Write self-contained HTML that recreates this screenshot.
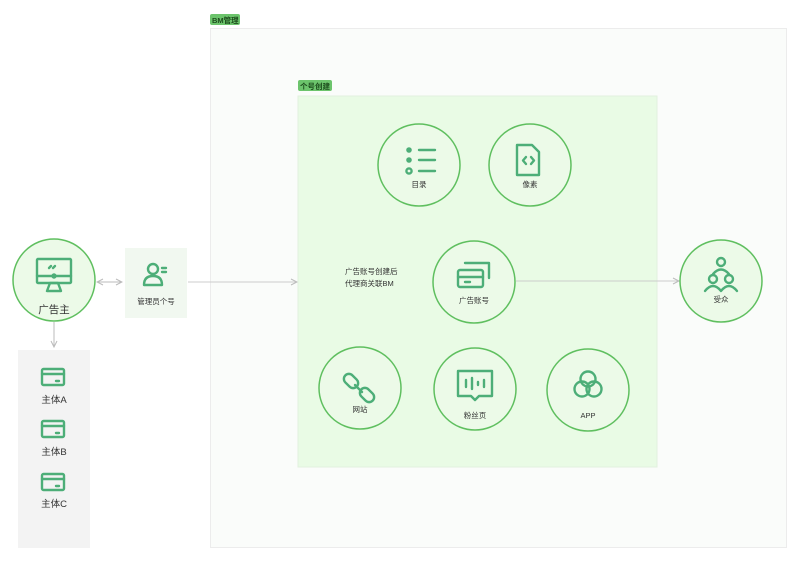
<!DOCTYPE html>
<html><head><meta charset="utf-8"><style>
html,body{margin:0;padding:0;background:#fff;width:800px;height:561px;overflow:hidden}
svg{display:block}
text{font-family:"Liberation Sans","Noto Sans CJK SC",sans-serif;fill:#333}
</style></head><body>
<svg width="800" height="561" viewBox="0 0 800 561" xmlns="http://www.w3.org/2000/svg">
<defs>
<marker id="ar" markerWidth="8" markerHeight="8" refX="7" refY="4" orient="auto" markerUnits="userSpaceOnUse"><path d="M1,1 L7,4 L1,7" fill="none" stroke="#bbb" stroke-width="1"/></marker>
<marker id="al" markerWidth="8" markerHeight="8" refX="1" refY="4" orient="auto" markerUnits="userSpaceOnUse"><path d="M7,1 L1,4 L7,7" fill="none" stroke="#bbb" stroke-width="1"/></marker>
</defs>
<rect width="800" height="561" fill="#fff"/>
<rect x="210.5" y="28.5" width="576" height="519" fill="#fafcfa" stroke="#ececec"/>
<rect x="210" y="14" width="30" height="11" rx="2" fill="#6cc46c"/>
<text x="212" y="23" font-size="7.5" font-weight="bold" style="fill:#1d4d1d">BM管理</text>
<rect x="298" y="96" width="359" height="371" fill="#e9fbe5" stroke="#e1f1de"/>
<rect x="298" y="80" width="34" height="11" rx="2" fill="#6cc46c"/>
<text x="300" y="89" font-size="7.5" font-weight="bold" style="fill:#1d4d1d">个号创建</text>
<rect x="125" y="248" width="62" height="70" fill="#f1f8f0"/>
<rect x="18" y="350" width="72" height="198" fill="#f3f3f3"/>
<line x1="97" y1="282" x2="122" y2="282" stroke="#bbb" marker-start="url(#al)" marker-end="url(#ar)"/>
<line x1="188" y1="282" x2="297" y2="282" stroke="#ccc" marker-end="url(#ar)"/>
<line x1="516" y1="281" x2="679" y2="281" stroke="#ccc" marker-end="url(#ar)"/>
<line x1="54" y1="322" x2="54" y2="347" stroke="#bbb" marker-end="url(#ar)"/>
<g fill="#ecfae8" stroke="#5fbf5f" stroke-width="1.5">
<circle cx="54" cy="280" r="41"/>
<circle cx="419" cy="165" r="41"/>
<circle cx="530" cy="165" r="41"/>
<circle cx="474" cy="282" r="41"/>
<circle cx="360" cy="388" r="41"/>
<circle cx="475" cy="389" r="41"/>
<circle cx="588" cy="390" r="41"/>
<circle cx="721" cy="281" r="41"/>
</g>
<g fill="none" stroke="#4dae78" stroke-width="2.4" stroke-linecap="round" stroke-linejoin="round">
<rect x="37" y="259" width="34" height="24" rx="1"/>
<line x1="37" y1="276" x2="71" y2="276"/>
<path d="M47,291 L61,291 L58,283 L50,283Z"/>
<path d="M49,268 l2,-2 M53,268 l2,-2"/>
<circle cx="54" cy="276" r="1.5" fill="#4dae78"/>
<circle cx="153" cy="269" r="5"/>
<path d="M144,285 q0,-9 9,-9 q9,0 9,9 z"/>
<path d="M162,268 h4 M162,272 h4"/>
<circle cx="409" cy="150" r="1.6" fill="#4dae78"/>
<circle cx="409" cy="160" r="1.6" fill="#4dae78"/>
<circle cx="409" cy="171" r="2.6"/>
<path d="M419,150 h16 M419,160 h16 M419,171 h16"/>
<path d="M517,145 h15 l7,7 v23 h-22 z"/>
<path d="M526,157 l-3,3.5 l3,3.5 M531,157 l3,3.5 l-3,3.5"/>
<rect x="458" y="270" width="25" height="17" rx="2"/>
<line x1="458" y1="277" x2="483" y2="277"/>
<path d="M465,263 h24 v15"/>
<path d="M465,282 h5"/>
<rect x="346" y="373" width="10" height="16" rx="5" transform="rotate(-45 351 381)"/>
<rect x="362" y="387" width="10" height="16" rx="5" transform="rotate(-45 367 395)"/>
<path d="M355,385 l7,7"/>
<path d="M458,371 h34 v25 h-13 l-4,4 l-4,-4 h-13 z"/>
<path d="M466,380 v7 M472,378 v11 M478,382 v3 M484,380 v7"/>
<circle cx="588" cy="379" r="7.5"/>
<circle cx="582" cy="389" r="7.5"/>
<circle cx="594" cy="389" r="7.5"/>
<circle cx="721" cy="262" r="4"/>
<path d="M713,274 q8,-9 16,0"/>
<circle cx="713" cy="279" r="4"/>
<circle cx="729" cy="279" r="4"/>
<path d="M705,291 q8,-10 16,0 q8,-10 16,0"/>
<rect x="42" y="369" width="22" height="16" rx="1.5"/><line x1="42" y1="374" x2="64" y2="374"/><line x1="56" y1="381" x2="59" y2="381"/>
<rect x="42" y="421" width="22" height="16" rx="1.5"/><line x1="42" y1="426" x2="64" y2="426"/><line x1="56" y1="433" x2="59" y2="433"/>
<rect x="42" y="474" width="22" height="16" rx="1.5"/><line x1="42" y1="479" x2="64" y2="479"/><line x1="56" y1="486" x2="59" y2="486"/>
</g>
<g text-anchor="middle">
<text x="54" y="313" font-size="10.5">广告主</text>
<text x="156" y="304" font-size="7.5">管理员个号</text>
<text x="419" y="187" font-size="7.5">目录</text>
<text x="530" y="187" font-size="7.5">像素</text>
<text x="474" y="303" font-size="7.5">广告账号</text>
<text x="360" y="412" font-size="7.5">网站</text>
<text x="475" y="418" font-size="7.5">粉丝页</text>
<text x="588" y="418" font-size="7.5">APP</text>
<text x="721" y="302" font-size="7.5">受众</text>
<text x="54" y="403" font-size="9.5">主体A</text>
<text x="54" y="455" font-size="9.5">主体B</text>
<text x="54" y="507" font-size="9.5">主体C</text>
</g>
<text x="345" y="274" font-size="7.5">广告账号创建后</text>
<text x="345" y="286" font-size="7.5">代理商关联BM</text>
</svg>
</body></html>
